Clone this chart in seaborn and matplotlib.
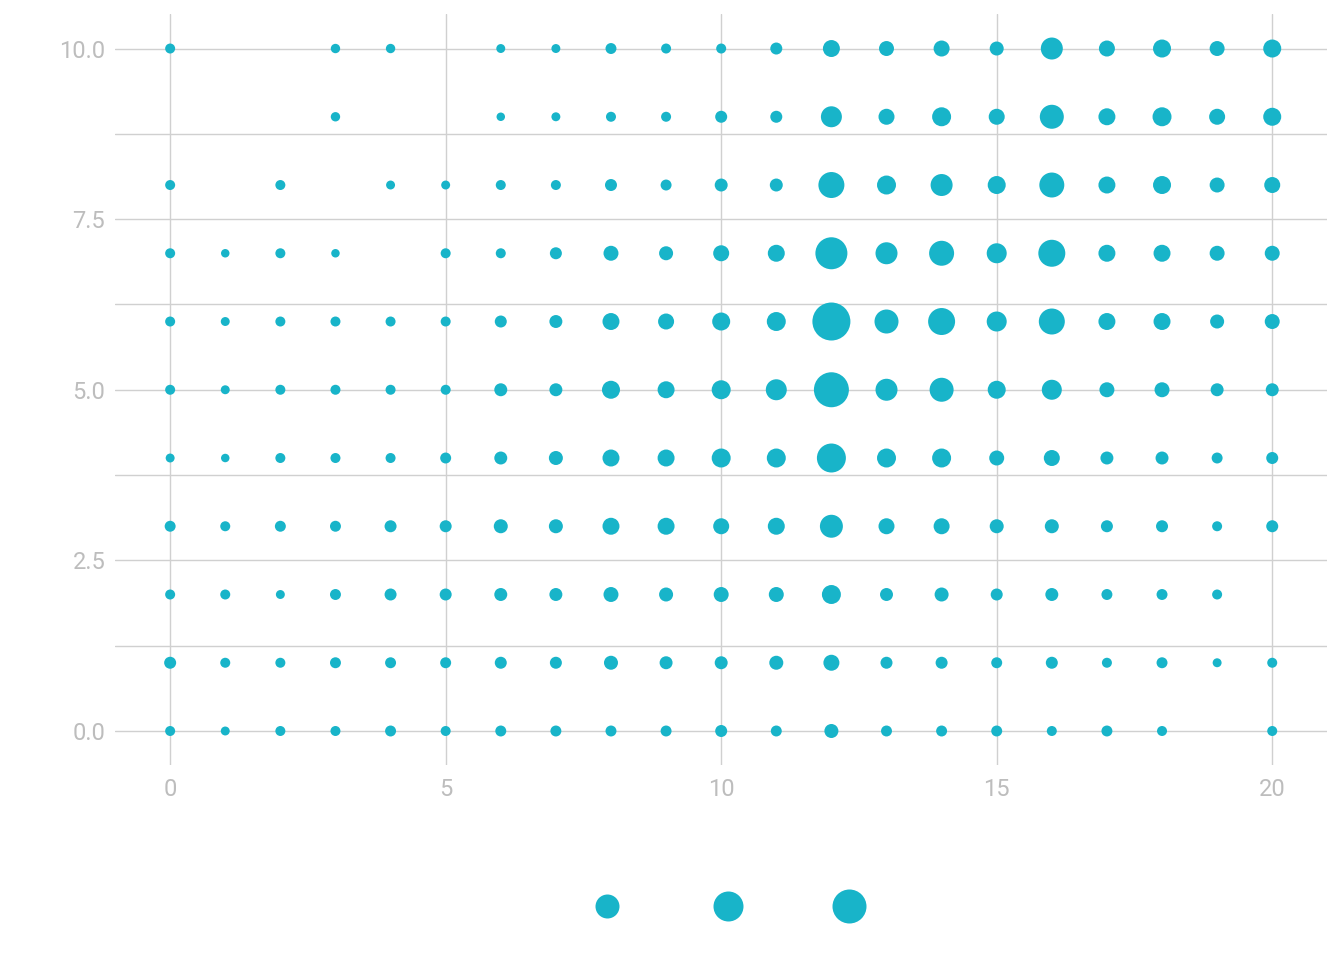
import numpy as np
import pandas as pd
import matplotlib
matplotlib.use("Agg")
import matplotlib.pyplot as plt
from matplotlib.lines import Line2D
from matplotlib.ticker import MultipleLocator
import seaborn as sns

# counts per cell, rows from y=10 down to y=0, columns x=0..20 (0 = no point)
x_vals = list(range(21))
y_vals = list(range(10, -1, -1))
row_10 = [25, 0, 0, 22, 22, 0, 20, 20, 30, 25, 25, 36, 72, 56, 64, 49, 121, 64, 81, 56, 81]
row_9 = [0, 0, 0, 22, 0, 0, 18, 20, 25, 25, 36, 36, 110, 64, 90, 64, 144, 72, 90, 64, 81]
row_8 = [25, 0, 25, 0, 20, 20, 25, 25, 36, 30, 42, 42, 169, 90, 121, 81, 156, 72, 81, 56, 64]
row_7 = [25, 18, 25, 18, 0, 25, 25, 36, 56, 49, 64, 72, 256, 121, 156, 100, 182, 72, 72, 56, 56]
row_6 = [25, 20, 25, 25, 25, 25, 36, 42, 72, 64, 81, 90, 361, 144, 182, 100, 169, 72, 72, 49, 56]
row_5 = [25, 20, 25, 25, 25, 25, 42, 42, 81, 72, 90, 110, 306, 121, 144, 81, 100, 56, 56, 42, 42]
row_4 = [20, 18, 25, 25, 25, 30, 42, 49, 72, 72, 90, 90, 210, 90, 90, 56, 64, 42, 42, 30, 36]
row_3 = [30, 25, 30, 30, 36, 36, 49, 49, 72, 72, 64, 72, 132, 64, 64, 49, 49, 36, 36, 25, 36]
row_2 = [25, 25, 20, 30, 36, 36, 42, 42, 56, 49, 56, 56, 90, 42, 49, 36, 42, 30, 30, 25, 0]
row_1 = [36, 25, 25, 30, 30, 30, 36, 36, 49, 42, 42, 49, 64, 36, 36, 30, 36, 25, 30, 20, 25]
row_0 = [25, 20, 25, 25, 30, 25, 30, 30, 30, 30, 36, 30, 49, 30, 30, 30, 25, 30, 25, 0, 25]
legend_counts = [144, 225, 289]

rows = [row_10, row_9, row_8, row_7, row_6, row_5, row_4, row_3, row_2, row_1, row_0]
recs = []
for y, r in zip(y_vals, rows):
    for x, n in zip(x_vals, r):
        if n > 0:
            recs.append((x, y, n))
df = pd.DataFrame(recs, columns=["x", "y", "n"])

col = "#18b4c9"
grid_c = "#d0d0d0"
txt_c = "#bdbdbd"
# area in pt^2 proportional to count (n = d_px^2 / 4)
k = (0.72 ** 2) * 4

sns.set_style("white")
plt.rcParams['font.family'] = ['Roboto', 'DejaVu Sans']

fig = plt.figure(figsize=(13.44, 9.6), dpi=100)
ax = fig.add_axes([0.0856, 0.203, 0.902, 0.782])

sns.scatterplot(data=df, x="x", y="y", size="n", sizes=(0, k * 400), size_norm=(0, 400),
                color=col, edgecolor="none", linewidth=0, alpha=1, legend=False, ax=ax, zorder=3)

ax.set_xlim(-1, 21)
ax.set_ylim(-0.5, 10.5)
ax.xaxis.set_major_locator(MultipleLocator(5))
ax.yaxis.set_major_locator(MultipleLocator(2.5))
ax.yaxis.set_minor_locator(MultipleLocator(1.25))
ax.yaxis.set_major_formatter(matplotlib.ticker.FormatStrFormatter("%.1f"))
ax.grid(True, which="major", axis="both", color=grid_c, linewidth=1.0)
ax.grid(True, which="minor", axis="y", color=grid_c, linewidth=1.0)
ax.tick_params(axis="both", which="major", length=5, width=1, color=grid_c, labelcolor=txt_c, labelsize=17)
ax.tick_params(axis="y", which="minor", length=0)
ax.tick_params(axis="y", pad=2)
ax.tick_params(axis="x", pad=4)
for s in ax.spines.values():
    s.set_visible(False)
ax.set_xlabel("")
ax.set_ylabel("")

handles = [Line2D([], [], marker="o", linestyle="", markersize=np.sqrt(k * n),
                  markerfacecolor=col, markeredgecolor="none") for n in legend_counts]
fig.legend(handles, ["", "", ""], loc="center", bbox_to_anchor=(728 / 1344, 1 - 907 / 960),
           ncol=3, frameon=False, handlelength=2, handletextpad=0, columnspacing=6.7, fontsize=10)

fig.savefig("out.png", dpi=100)
